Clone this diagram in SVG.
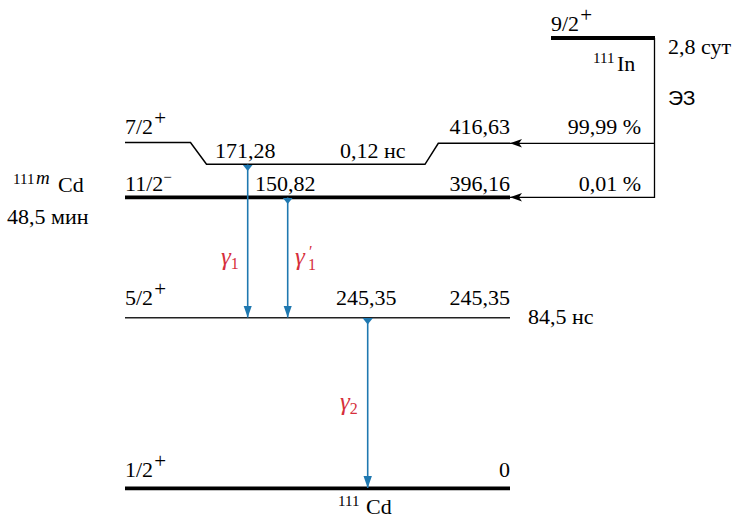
<svg xmlns="http://www.w3.org/2000/svg" width="743" height="519" viewBox="0 0 743 519">
<defs>
<style>
.t{font-family:"Liberation Serif","DejaVu Serif",serif;font-size:22px;fill:#000}
.s{font-family:"Liberation Sans","DejaVu Sans",sans-serif;font-size:21px;fill:#000}
.sup{font-size:15px}
.pm{font-size:21px}
.g{font-family:"Liberation Serif","DejaVu Serif",serif;font-size:25px;font-style:italic;fill:#d62f3c}
.gs{font-family:"Liberation Serif","DejaVu Serif",serif;font-style:normal;font-size:16px;fill:#d62f3c}
.lvl{fill:none;stroke:#000;stroke-width:1.5}
.thick{stroke-width:3.8}
.thin{stroke:#222;stroke-width:1.5}
.ec{fill:none;stroke:#000;stroke-width:1.3}
.gam{fill:none;stroke:#1f78b0;stroke-width:1.6}
</style>
<marker id="ah" markerUnits="userSpaceOnUse" markerWidth="14" markerHeight="10" viewBox="0 0 14 10" refX="13" refY="5" orient="auto">
<path d="M13,5 L1,0.8 L4,5 L1,9.2 Z" fill="#000"/>
</marker>
<marker id="gh" markerUnits="userSpaceOnUse" markerWidth="13" markerHeight="12" viewBox="0 0 13 12" refX="12" refY="6" orient="auto">
<path d="M0,1.8 L12,6 L0,10.2 Z" fill="#1f78b0"/>
</marker>
<marker id="gt" markerUnits="userSpaceOnUse" markerWidth="8" markerHeight="12" viewBox="0 0 8 12" refX="0" refY="6" orient="auto">
<path d="M0,0.8 L6.5,6 L0,11.2 Z" fill="#1f78b0"/>
</marker>
</defs>

<g id="level-in">
<line class="lvl thick" x1="551" y1="38" x2="655" y2="38"/>
<text class="t" x="551" y="31">9/2<tspan class="pm" dx="1" dy="-9">+</tspan></text>
<text class="t" x="668" y="54">2,8 сут</text>
<text class="t"><tspan class="sup" x="593" y="63">111</tspan><tspan x="617" y="71">In</tspan></text>
<text class="s" x="668" y="105">ЭЗ</text>
</g>

<g id="level-7-2">
<path class="lvl" d="M125,142.5 H190.5 L206.5,164.3 H425 L438.3,143.3 H510"/>
<text class="t" x="125" y="134">7/2<tspan class="pm" dx="1" dy="-9">+</tspan></text>
<text class="t" x="215" y="158">171,28</text>
<text class="t" x="340" y="158">0,12 нс</text>
<text class="t" x="510" y="134" text-anchor="end">416,63</text>
<text class="t" x="641" y="134" text-anchor="end">99,99 %</text>
</g>

<g id="level-11-2">
<line class="lvl thick" x1="125" y1="197.3" x2="510" y2="197.3"/>
<text class="t" x="125" y="191">11/2<tspan class="sup" dy="-9">−</tspan></text>
<text class="t" x="255" y="191">150,82</text>
<text class="t" x="510" y="191" text-anchor="end">396,16</text>
<text class="t" x="641" y="191" text-anchor="end">0,01 %</text>
<text class="t"><tspan class="sup" x="13" y="184">111</tspan><tspan font-size="19px" font-style="italic" x="36" y="184">m</tspan><tspan x="58" y="192">Cd</tspan></text>
<text class="t" x="7" y="224">48,5 мин</text>
</g>

<g id="level-5-2">
<line class="lvl thin" x1="125" y1="317.8" x2="510" y2="317.8"/>
<text class="t" x="125" y="305">5/2<tspan class="pm" dx="1" dy="-9">+</tspan></text>
<text class="t" x="336" y="305">245,35</text>
<text class="t" x="510" y="305" text-anchor="end">245,35</text>
<text class="t" x="528" y="324">84,5 нс</text>
</g>

<g id="level-1-2">
<line class="lvl thick" x1="125" y1="488.3" x2="510" y2="488.3"/>
<text class="t" x="125" y="477">1/2<tspan class="pm" dx="1" dy="-9">+</tspan></text>
<text class="t" x="510" y="477" text-anchor="end">0</text>
<text class="t"><tspan class="sup" x="338" y="506">111</tspan><tspan x="366" y="514">Cd</tspan></text>
</g>

<g id="connectors">
<path class="ec" d="M654.5,38 V197.3 H510" marker-end="url(#ah)"/>
<line class="ec" x1="654.5" y1="143.3" x2="510" y2="143.3" marker-end="url(#ah)"/>
<line class="gam" x1="247.7" y1="164.5" x2="247.7" y2="317.5" marker-start="url(#gt)" marker-end="url(#gh)"/>
<line class="gam" x1="287.7" y1="197.5" x2="287.7" y2="317.5" marker-start="url(#gt)" marker-end="url(#gh)"/>
<line class="gam" x1="367.7" y1="318" x2="367.7" y2="488" marker-start="url(#gt)" marker-end="url(#gh)"/>
<text class="g" x="221" y="265">γ<tspan class="gs" dy="4">1</tspan></text>
<text class="g" x="295" y="265">γ<tspan class="gs" x="309" y="257">′</tspan><tspan class="gs" x="308" y="270">1</tspan></text>
<text class="g" x="340" y="410">γ<tspan class="gs" dy="4">2</tspan></text>
</g>
</svg>
